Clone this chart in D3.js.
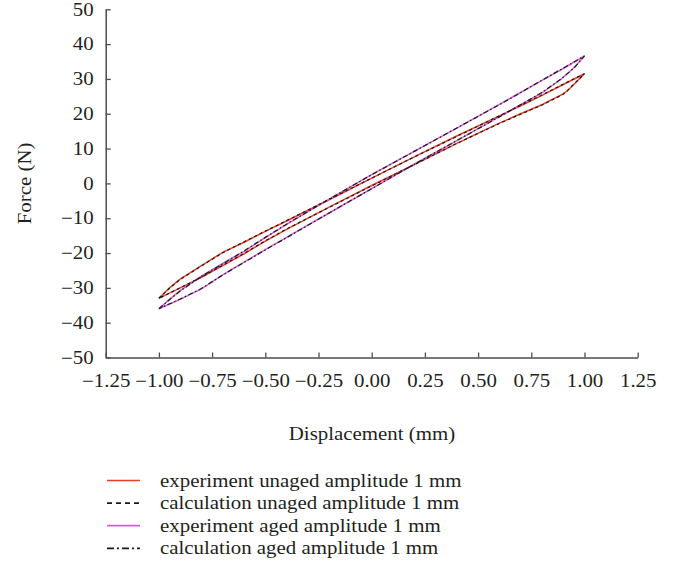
<!DOCTYPE html>
<html>
<head>
<meta charset="utf-8">
<script src="https://cdn.jsdelivr.net/npm/d3@7"></script>
<style>
  body { margin: 0; background: #fff; }
  text { font-family: "Liberation Serif", "DejaVu Serif", serif; fill: #231f20; }
</style>
</head>
<body>
<svg class="chart"></svg>
<script>
// displacement grid (mm) for each branch
var xsUp   = [-1, -0.95, -0.9, -0.8, -0.7, -0.6, -0.5, -0.4, -0.2, 0, 0.2, 0.4, 0.6, 0.7, 0.8, 0.9, 1];
var xsDown = [1, 0.92, 0.9, 0.8, 0.7, 0.6, 0.4, 0.2, 0, -0.2, -0.4, -0.5, -0.6, -0.7, -0.8, -0.9, -1];
var xsDownAged = [1, 0.95, 0.89, 0.8, 0.7, 0.6, 0.4, 0.2, 0, -0.2, -0.4, -0.5, -0.6, -0.7, -0.8, -0.9, -1];

// force (N)
var expUnagedUp   = [-33, -30.0, -27.5, -23.6, -19.8, -16.9, -13.8, -10.8, -4.7, 1.5, 7.6, 13.6, 19.4, 22.3, 25.3, 28.4, 31.5];
var expUnagedDown = [31.5, 26.6, 25.7, 22.6, 20.0, 17.3, 11.5, 5.4, -0.6, -6.8, -13.2, -16.6, -20.2, -23.6, -27.0, -30.0, -33];
var calUnagedUp   = [-33, -30.1, -27.6, -23.7, -19.9, -16.8, -13.7, -10.7, -4.6, 1.5, 7.6, 13.5, 19.4, 22.4, 25.4, 28.5, 31.5];
var calUnagedDown = [31.5, 26.7, 25.6, 22.5, 19.9, 17.2, 11.5, 5.4, -0.7, -6.9, -13.1, -16.5, -20.1, -23.5, -26.9, -30.0, -33];

var expAgedUp   = [-36, -33.3, -30.8, -26.6, -23.0, -19.5, -15.6, -11.8, -4.5, 2.5, 9.2, 15.9, 22.7, 26.1, 29.6, 33.0, 36.6];
var expAgedDown = [36.6, 33.2, 29.9, 26.0, 22.6, 19.2, 12.3, 5.5, -1.5, -8.5, -15.5, -19.0, -22.6, -26.3, -30.3, -33.3, -36];
var calAgedUp   = [-36, -33.4, -30.9, -26.7, -23.1, -19.4, -15.5, -11.7, -4.5, 2.5, 9.2, 15.9, 22.6, 26.1, 29.6, 33.1, 36.6];
var calAgedDown = [36.6, 33.1, 30.0, 26.1, 22.6, 19.1, 12.3, 5.5, -1.5, -8.5, -15.6, -19.1, -22.7, -26.3, -30.2, -33.2, -36];

var xTicks = [-1.25, -1, -0.75, -0.5, -0.25, 0, 0.25, 0.5, 0.75, 1, 1.25];
var yTicks = [-50, -40, -30, -20, -10, 0, 10, 20, 30, 40, 50];

var seriesNames = [
  "experiment unaged amplitude 1 mm",
  "calculation unaged amplitude 1 mm",
  "experiment aged amplitude 1 mm",
  "calculation aged amplitude 1 mm"
];

(function () {
  'use strict';

  var W = 686, H = 564;
  var svg = d3.select(".chart").attr("width", W).attr("height", H);

  var x = d3.scaleLinear().domain([-1.25, 1.25]).range([105.7, 637.7]);
  var y = d3.scaleLinear().domain([-50, 50]).range([357.5, 9.3]);

  // the original face is wider than Times, stretch glyphs a bit
  function widen(sel) {
    sel.each(function () {
      var w = this.getComputedTextLength();
      d3.select(this).attr("textLength", w * 1.16).attr("lengthAdjust", "spacingAndGlyphs");
    });
  }

  var xAxis = svg.append("g")
      .attr("transform", "translate(0," + y(-50) + ")")
      .call(d3.axisBottom(x).tickValues(xTicks).tickFormat(d3.format(".2f"))
            .tickSize(-5).tickSizeOuter(0).tickPadding(17));
  var yAxis = svg.append("g")
      .attr("transform", "translate(" + x(-1.25) + ",0)")
      .call(d3.axisLeft(y).tickValues(yTicks).tickFormat(d3.format("d"))
            .tickSize(-5).tickSizeOuter(0).tickPadding(12));

  [xAxis, yAxis].forEach(function (g) {
    g.select(".domain").attr("stroke", "#4d4d4d").attr("stroke-width", 1.5);
    g.selectAll(".tick line").attr("stroke", "#4d4d4d").attr("stroke-width", 1.3);
    g.selectAll(".tick text").style("font-family", "Liberation Serif")
      .style("font-size", "18px").attr("fill", "#231f20")
      .call(widen);
  });

  svg.append("text")
      .attr("x", 372).attr("y", 440)
      .attr("text-anchor", "middle")
      .style("font-size", "18px")
      .text("Displacement (mm)")
      .call(widen);

  svg.append("text")
      .attr("transform", "translate(31," + y(0) + ") rotate(-90)")
      .attr("text-anchor", "middle")
      .style("font-size", "18px")
      .text("Force (N)")
      .call(widen);

  function loop(xa, fa, xb, fb) {
    var pts = [];
    xa.forEach(function (d, i) { pts.push([d, fa[i]]); });
    xb.forEach(function (d, i) { pts.push([d, fb[i]]); });
    return pts;
  }

  var line = d3.line()
      .x(function (d) { return x(d[0]); })
      .y(function (d) { return y(d[1]); });

  var styles = [
    { color: "#ee3b24", dash: null, width: 1.5, legDash: null },
    { color: "#1a1a1a", dash: "3,3", width: 1.2, legDash: "5,4" },
    { color: "#d65cd6", dash: null, width: 1.5, legDash: null },
    { color: "#1a1a1a", dash: "5,2.5,1.5,2.5", width: 1.2, legDash: "7,3,2,3" }
  ];

  var loops = [
    loop(xsUp, expUnagedUp, xsDown, expUnagedDown),
    loop(xsUp, calUnagedUp, xsDown, calUnagedDown),
    loop(xsUp, expAgedUp, xsDownAged, expAgedDown),
    loop(xsUp, calAgedUp, xsDownAged, calAgedDown)
  ];

  // experiments first, then calculations on top
  [0, 2, 1, 3].forEach(function (i) {
    svg.append("path")
        .attr("d", line(loops[i]))
        .attr("fill", "none")
        .attr("stroke", styles[i].color)
        .attr("stroke-width", styles[i].width)
        .attr("stroke-dasharray", styles[i].dash);
  });

  // legend
  var leg = svg.append("g").selectAll("g").data(seriesNames).enter().append("g")
      .attr("transform", function (d, i) { return "translate(0," + (480.5 + i * 22.6) + ")"; });
  leg.append("line")
      .attr("x1", 107).attr("x2", 140)
      .attr("stroke", function (d, i) { return styles[i].color; })
      .attr("stroke-width", 1.7)
      .attr("stroke-dasharray", function (d, i) { return styles[i].legDash; });
  leg.append("text")
      .attr("x", 160).attr("y", 6)
      .style("font-size", "18px")
      .text(function (d) { return d; })
      .call(widen);
})();
</script>
</body>
</html>
